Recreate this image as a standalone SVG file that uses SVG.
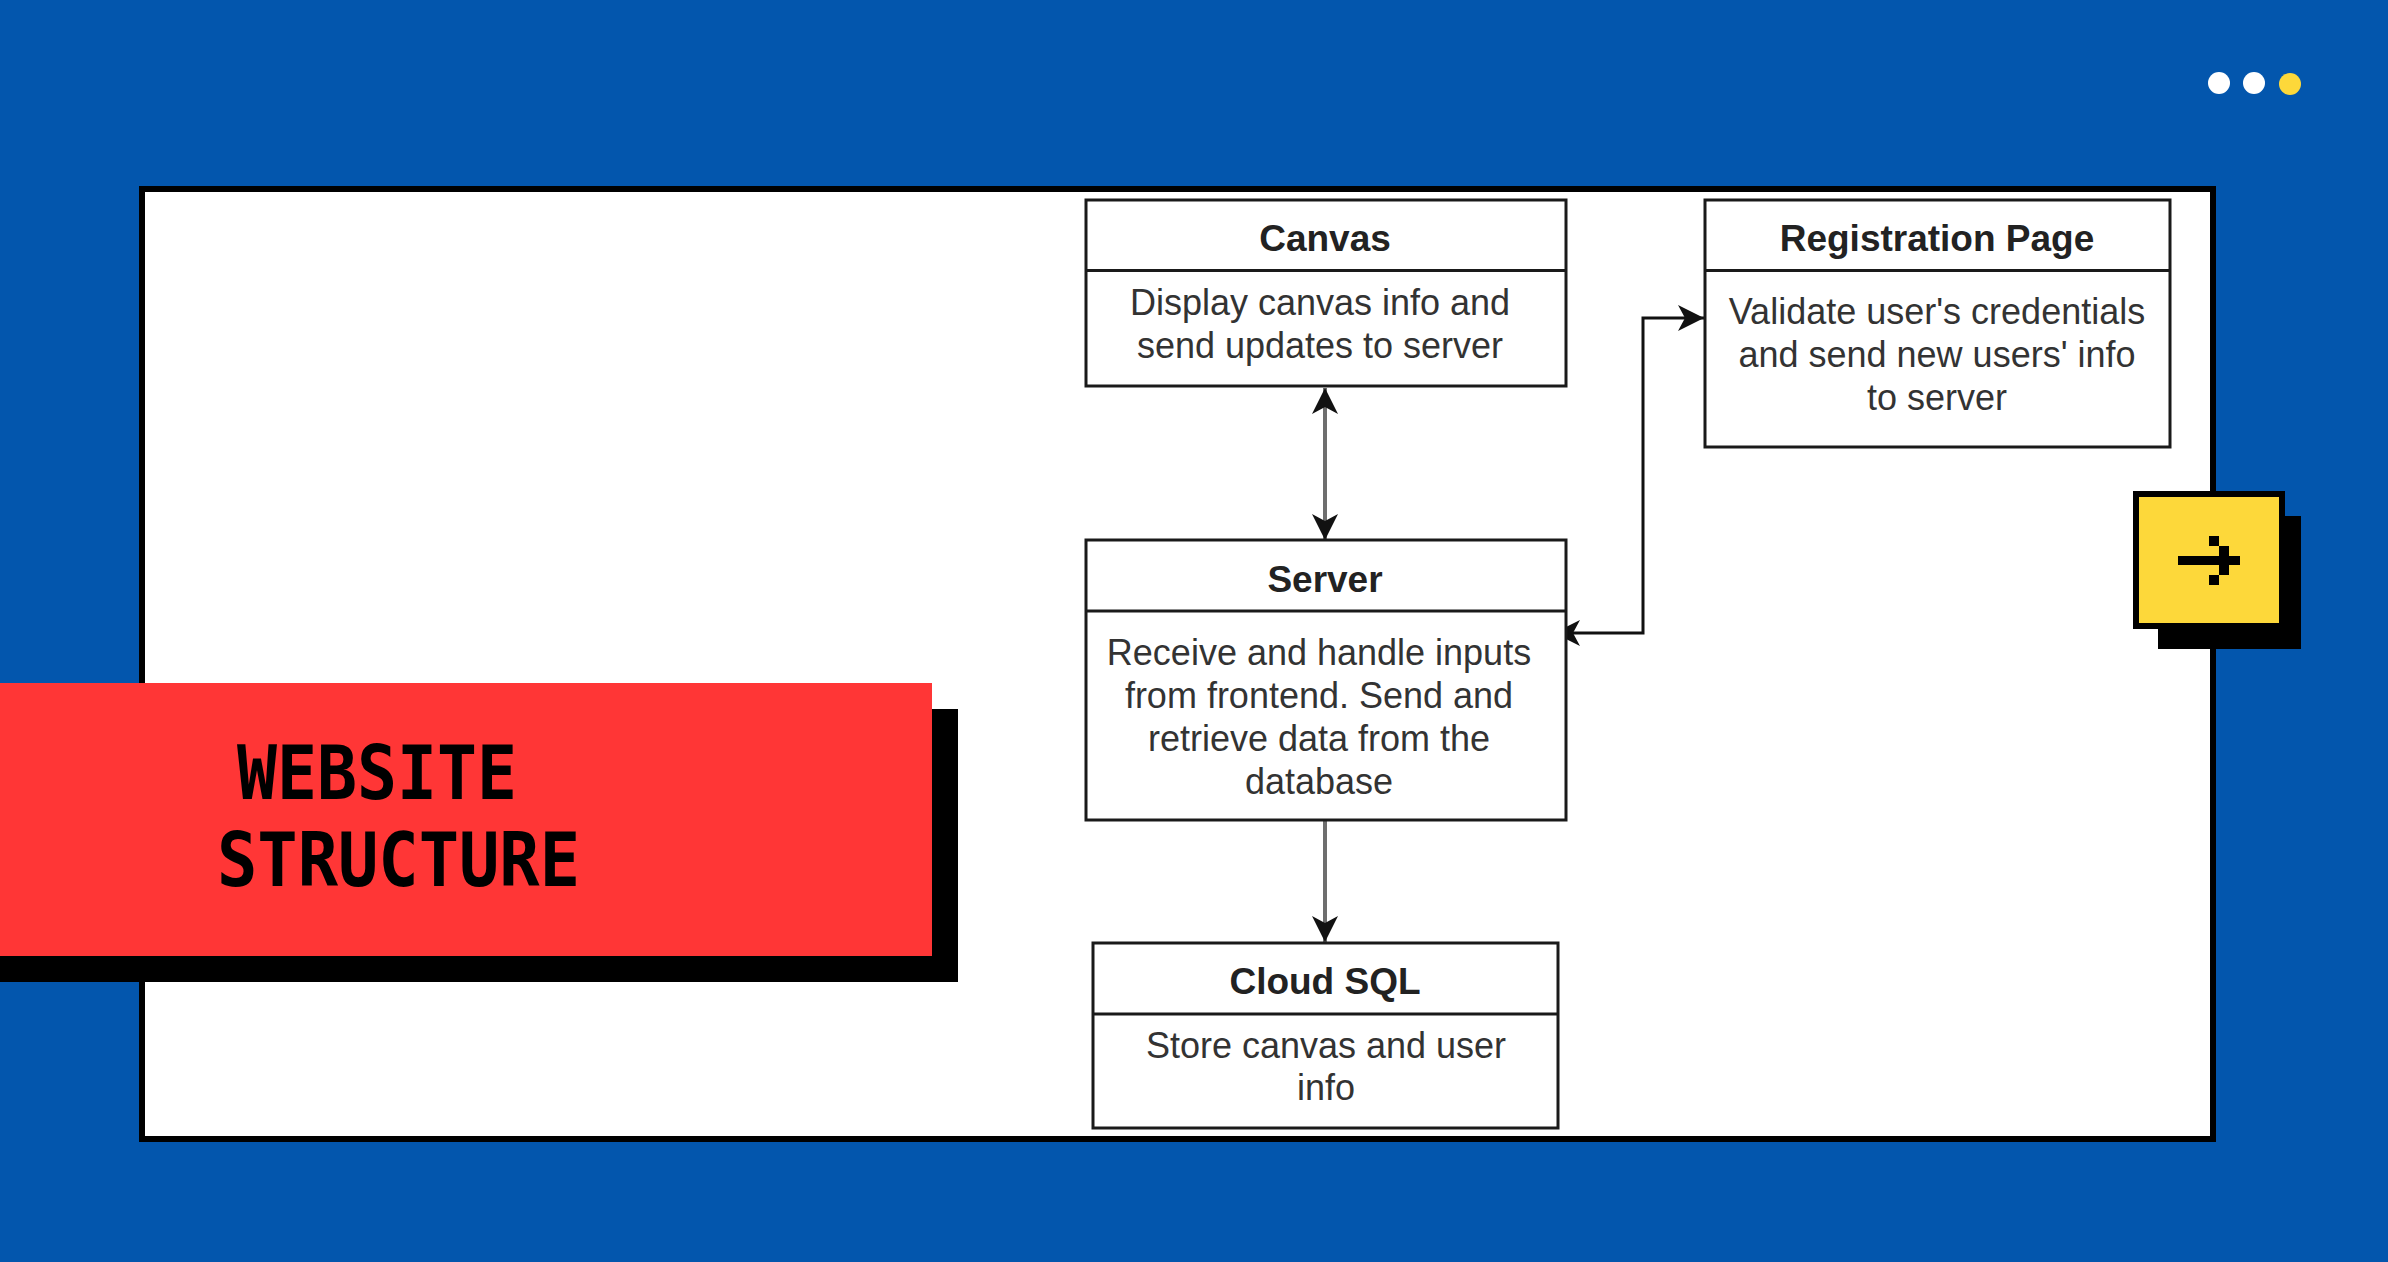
<svg xmlns="http://www.w3.org/2000/svg" width="2388" height="1262" viewBox="0 0 2388 1262">
<defs>
<style>
.box{fill:#ffffff;stroke:#1a1a1a;stroke-width:3}
.div{stroke:#1a1a1a;stroke-width:3}
.title{font-family:"Liberation Sans",Arial,sans-serif;font-weight:bold;font-size:37px;fill:#222;text-anchor:middle}
.body{font-family:"Liberation Sans",Arial,sans-serif;font-size:36px;fill:#333;text-anchor:middle}
.conn{fill:none;stroke:#6e6e6e;stroke-width:4}
.conn2{fill:none;stroke:#111;stroke-width:3}
.big{font-family:"DejaVu Sans Mono","Liberation Mono",monospace;font-weight:bold;font-size:75px;fill:#000}
</style>
<marker id="ah" viewBox="0 0 26 26" refX="26" refY="13" markerWidth="26" markerHeight="26" markerUnits="userSpaceOnUse" orient="auto-start-reverse">
<path d="M0,0 L26,13 L0,26 L7,13 Z" fill="#111"/>
</marker>
</defs>
<rect x="0" y="0" width="2388" height="1262" fill="#0356AD"/>
<g id="dots">
<ellipse cx="2219" cy="83" rx="11" ry="11" fill="#ffffff"/>
<ellipse cx="2254" cy="83" rx="11" ry="11" fill="#ffffff"/>
<ellipse cx="2290" cy="84" rx="11" ry="11" fill="#FDD83A"/>
</g>
<rect id="panel" x="142" y="189" width="2071" height="950" fill="#ffffff" stroke="#000" stroke-width="6"/>
<g id="connectors">
<line class="conn" x1="1325" y1="388" x2="1325" y2="540" marker-start="url(#ah)" marker-end="url(#ah)"/>
<line class="conn" x1="1325" y1="820" x2="1325" y2="942" marker-end="url(#ah)"/>
<path class="conn2" d="M1554,633 H1643 V318 H1704" marker-start="url(#ah)" marker-end="url(#ah)"/>
</g>
<g id="canvas">
<rect class="box" x="1086" y="200" width="480" height="186"/>
<line class="div" x1="1086" y1="270.5" x2="1566" y2="270.5"/>
<text class="title" x="1325" y="251">Canvas</text>
<text class="body" x="1320" y="315">Display canvas info and</text>
<text class="body" x="1320" y="358">send updates to server</text>
</g>
<g id="registration">
<rect class="box" x="1705" y="200" width="465" height="247"/>
<line class="div" x1="1705" y1="270.5" x2="2170" y2="270.5"/>
<text class="title" x="1937" y="251">Registration Page</text>
<text class="body" x="1937" y="324">Validate user's credentials</text>
<text class="body" x="1937" y="367">and send new users' info</text>
<text class="body" x="1937" y="410">to server</text>
</g>
<g id="server">
<rect class="box" x="1086" y="540" width="480" height="280"/>
<line class="div" x1="1086" y1="611" x2="1566" y2="611"/>
<text class="title" x="1325" y="592">Server</text>
<text class="body" x="1319" y="665">Receive and handle inputs</text>
<text class="body" x="1319" y="708">from frontend. Send and</text>
<text class="body" x="1319" y="751">retrieve data from the</text>
<text class="body" x="1319" y="794">database</text>
</g>
<g id="cloudsql">
<rect class="box" x="1093" y="943" width="465" height="185"/>
<line class="div" x1="1093" y1="1014" x2="1558" y2="1014"/>
<text class="title" x="1325" y="994">Cloud SQL</text>
<text class="body" x="1326" y="1058">Store canvas and user</text>
<text class="body" x="1326" y="1100">info</text>
</g>
<g id="banner">
<rect x="0" y="709" width="958" height="273" fill="#000"/>
<rect x="0" y="683" width="932" height="273" fill="#FF3636"/>
<text class="big" x="237" y="799" textLength="280" lengthAdjust="spacingAndGlyphs">WEBSITE</text>
<text class="big" x="217" y="886" textLength="363" lengthAdjust="spacingAndGlyphs">STRUCTURE</text>
</g>
<g id="next-button">
<rect x="2158" y="516" width="143" height="133" fill="#000"/>
<rect x="2136" y="494" width="146" height="132" fill="#FDD83A" stroke="#000" stroke-width="6"/>
<rect x="2178" y="556" width="62" height="9" fill="#000"/>
<rect x="2209" y="536" width="10" height="10" fill="#000"/>
<rect x="2219" y="546" width="10" height="10" fill="#000"/>
<rect x="2219" y="565" width="10" height="10" fill="#000"/>
<rect x="2209" y="575" width="10" height="10" fill="#000"/>
</g>
</svg>
